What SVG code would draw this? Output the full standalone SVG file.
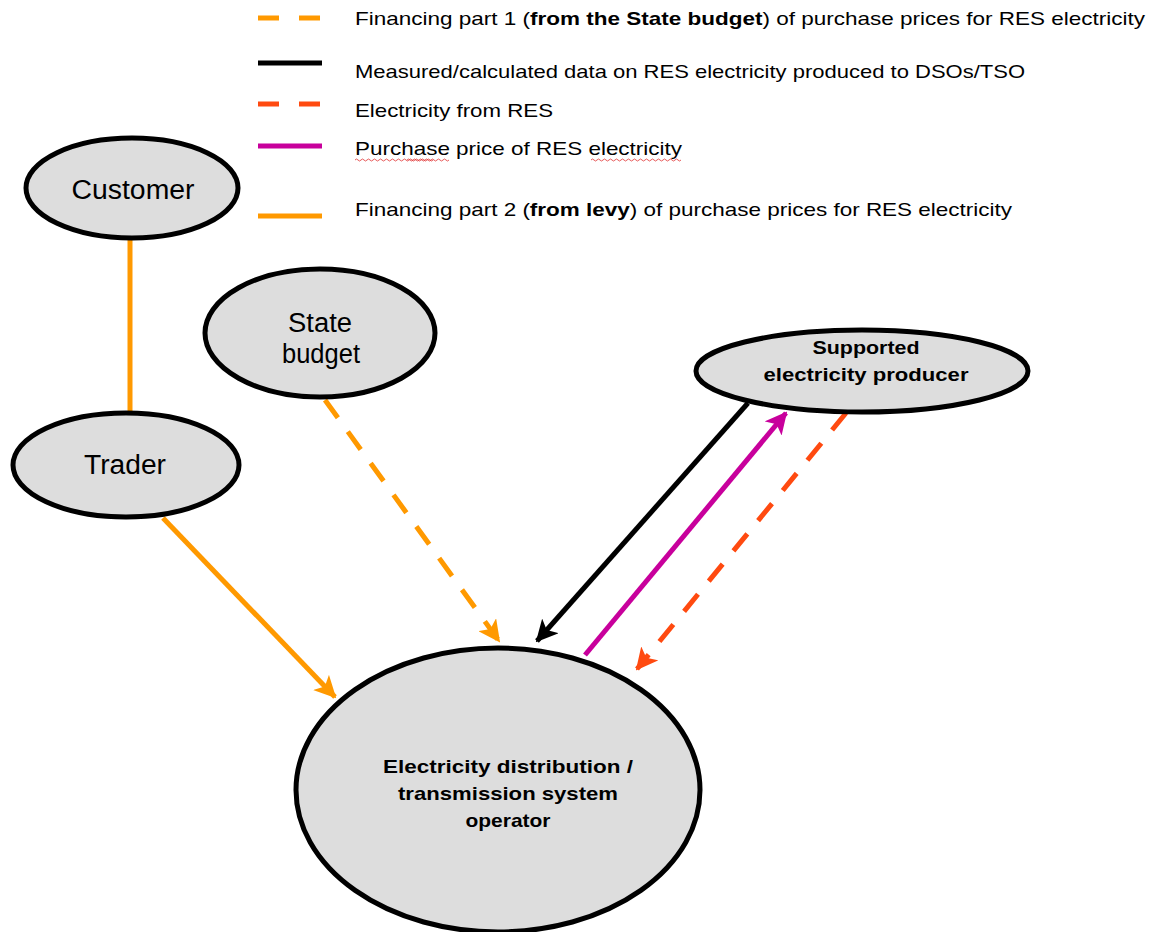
<svg xmlns="http://www.w3.org/2000/svg" width="1155" height="932" viewBox="0 0 1155 932">
<style>
.node{fill:#dddddd;stroke:#000;stroke-width:5}
.t{font-family:"Liberation Sans",Arial,sans-serif;fill:#000}
.lg{font-size:18.5px}
.nl{font-size:27px;text-anchor:middle}
.nb{font-size:19px;font-weight:bold;text-anchor:middle}
.c{fill:none;stroke-width:5}
</style>
<defs>
<marker id="aO" viewBox="0 0 12 12" refX="11" refY="6" markerWidth="4.4" markerHeight="4.4" orient="auto" markerUnits="strokeWidth"><path d="M0,0 L12,6 L0,12 L3,6 Z" fill="#ff9900"/></marker>
<marker id="aK" viewBox="0 0 12 12" refX="11" refY="6" markerWidth="4.4" markerHeight="4.4" orient="auto" markerUnits="strokeWidth"><path d="M0,0 L12,6 L0,12 L3,6 Z" fill="#000"/></marker>
<marker id="aM" viewBox="0 0 12 12" refX="11" refY="6" markerWidth="4.4" markerHeight="4.4" orient="auto" markerUnits="strokeWidth"><path d="M0,0 L12,6 L0,12 L3,6 Z" fill="#c8009c"/></marker>
<marker id="aR" viewBox="0 0 12 12" refX="11" refY="6" markerWidth="4.4" markerHeight="4.4" orient="auto" markerUnits="strokeWidth"><path d="M0,0 L12,6 L0,12 L3,6 Z" fill="#ff4a10"/></marker>
</defs>
<rect width="1155" height="932" fill="#fff"/>
<g id="legend">
<line x1="258" y1="18" x2="322" y2="18" stroke="#ff9900" stroke-width="5" stroke-dasharray="21,20"/>
<line x1="258" y1="63" x2="322" y2="63" stroke="#000" stroke-width="5"/>
<line x1="258" y1="104" x2="322" y2="104" stroke="#ff4a10" stroke-width="5" stroke-dasharray="21,20"/>
<line x1="258" y1="146" x2="322" y2="146" stroke="#c8009c" stroke-width="5"/>
<line x1="258" y1="216" x2="322" y2="216" stroke="#ff9900" stroke-width="5"/>
<text class="t lg" x="355" y="25" textLength="790" lengthAdjust="spacingAndGlyphs">Financing  part 1 (<tspan font-weight="bold">from the State budget</tspan>)  of purchase  prices  for RES electricity</text>
<text class="t lg" x="355" y="78" textLength="670" lengthAdjust="spacingAndGlyphs">Measured/calculated  data on RES electricity produced to DSOs/TSO</text>
<text class="t lg" x="355" y="117" textLength="198" lengthAdjust="spacingAndGlyphs">Electricity  from RES</text>
<text class="t lg" x="355" y="155" textLength="327" lengthAdjust="spacingAndGlyphs">Purchase  price of RES electricity</text>
<path d="M355,160 q1.5,-2 3,0 t3,0 t3,0 t3,0 t3,0 t3,0 t3,0 t3,0 t3,0 t3,0 t3,0 t3,0 t3,0 t3,0 t3,0 t3,0 t3,0 t3,0 t3,0 t3,0 t3,0 t3,0 t3,0 t3,0 t3,0 t3,0" fill="none" stroke="#e03030" stroke-width="0.8"/>
<path d="M407,160 q1.5,-2 3,0 t3,0 t3,0 t3,0 t3,0 t3,0 t3,0 t3,0 t3,0 t3,0 t3,0 t3,0 t3,0 t3,0" fill="none" stroke="#e03030" stroke-width="0.8"/>
<path d="M591,160 q1.5,-2 3,0 t3,0 t3,0 t3,0 t3,0 t3,0 t3,0 t3,0 t3,0 t3,0 t3,0 t3,0 t3,0 t3,0 t3,0 t3,0 t3,0 t3,0 t3,0 t3,0 t3,0 t3,0 t3,0 t3,0 t3,0 t3,0 t3,0 t3,0 t3,0 t3,0" fill="none" stroke="#e03030" stroke-width="0.8"/>
<text class="t lg" x="355" y="216" textLength="657" lengthAdjust="spacingAndGlyphs">Financing  part 2 (<tspan font-weight="bold">from levy</tspan>)  of purchase  prices  for RES electricity</text>
</g>
<g id="connectors">
<line class="c" x1="130" y1="240" x2="130" y2="412" stroke="#ff9900"/>
<line class="c" x1="163" y1="518" x2="335" y2="697" stroke="#ff9900" stroke-width="4.5" marker-end="url(#aO)"/>
<line class="c" x1="325" y1="400" x2="499" y2="641" stroke="#ff9900" stroke-dasharray="22,17" marker-end="url(#aO)"/>
<line class="c" x1="748" y1="403" x2="537" y2="641" stroke="#000" marker-end="url(#aK)"/>
<line class="c" x1="585" y1="655" x2="786" y2="413" stroke="#c8009c" marker-end="url(#aM)"/>
<line class="c" x1="846" y1="413" x2="637" y2="669" stroke="#ff4a10" stroke-dasharray="22,17" marker-end="url(#aR)"/>
</g>
<g id="customer">
<ellipse class="node" cx="132" cy="188" rx="106" ry="50"/>
<text class="t nl" x="133" y="199" textLength="123" lengthAdjust="spacingAndGlyphs">Customer</text>
</g>
<g id="state-budget">
<ellipse class="node" cx="320" cy="333" rx="115" ry="64"/>
<text class="t nl" x="320" y="332" textLength="64" lengthAdjust="spacingAndGlyphs">State</text>
<text class="t nl" x="321" y="363" textLength="78" lengthAdjust="spacingAndGlyphs">budget</text>
</g>
<g id="trader">
<ellipse class="node" cx="126" cy="465" rx="113" ry="52"/>
<text class="t nl" x="125" y="474" textLength="82" lengthAdjust="spacingAndGlyphs">Trader</text>
</g>
<g id="producer">
<ellipse class="node" cx="862" cy="371" rx="166" ry="41"/>
<text class="t nb" x="866" y="354" textLength="107" lengthAdjust="spacingAndGlyphs">Supported</text>
<text class="t nb" x="866" y="381" textLength="205" lengthAdjust="spacingAndGlyphs">electricity  producer</text>
</g>
<g id="operator">
<ellipse class="node" cx="498" cy="790" rx="202" ry="142"/>
<text class="t nb" x="508" y="773" textLength="250" lengthAdjust="spacingAndGlyphs">Electricity  distribution  /</text>
<text class="t nb" x="508" y="800" textLength="220" lengthAdjust="spacingAndGlyphs">transmission  system</text>
<text class="t nb" x="508" y="827" textLength="85" lengthAdjust="spacingAndGlyphs">operator</text>
</g>
</svg>
